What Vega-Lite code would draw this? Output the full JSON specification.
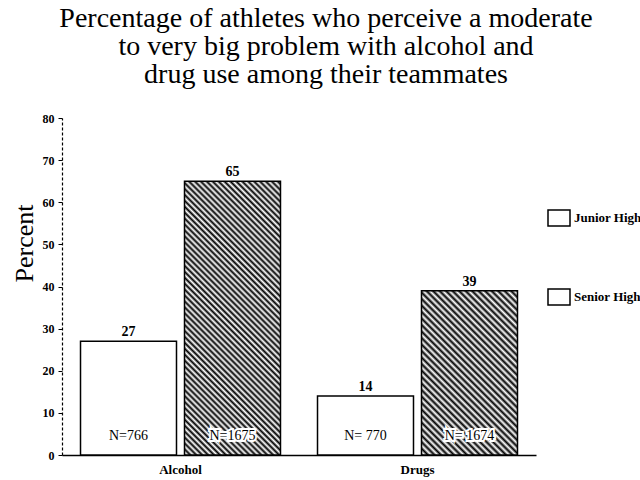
{
  "$schema": "https://vega.github.io/schema/vega-lite/v6.json",
  "autosize": "none",
  "width": 474,
  "height": 337,
  "padding": {"left": 62, "top": 118, "right": 104, "bottom": 25},
  "background": "white",
  "config": {"view": {"stroke": null}, "font": "Liberation Serif"},
  "title": {
    "text": ["Percentage of athletes who perceive a moderate", "to very big problem with alcohol and", "drug use among their teammates"],
    "font": "Liberation Serif", "fontSize": 28, "fontWeight": "normal", "color": "black",
    "anchor": "middle", "frame": "group", "dx": 27, "offset": 23, "lineHeight": 28
  },
  "data": {"values": [
    {"cat": "Alcohol", "level": "Junior High", "pct": 27, "n": "N=766"},
    {"cat": "Alcohol", "level": "Senior High", "pct": 65, "n": "N=1675"},
    {"cat": "Drugs", "level": "Junior High", "pct": 14, "n": "N= 770"},
    {"cat": "Drugs", "level": "Senior High", "pct": 39, "n": "N= 1674"}
  ]},
  "encoding": {
    "x": {"field": "cat", "type": "nominal", "scale": {"paddingInner": 0, "paddingOuter": 0},
      "axis": {"title": null, "labelAngle": 0, "ticks": false, "domainColor": "black", "domainWidth": 1.5, "labelFont": "Liberation Serif", "labelFontSize": 13, "labelFontWeight": "bold", "labelColor": "black", "labelPadding": 8}},
    "xOffset": {"field": "level", "type": "nominal", "scale": {"paddingInner": 0.077, "paddingOuter": 0.178}},
    "y": {"field": "pct", "type": "quantitative", "scale": {"domain": [0, 80], "nice": false},
      "axis": {"title": "Percent", "titleFont": "Liberation Serif", "titleFontSize": 26, "titleFontWeight": "normal", "titleColor": "black",
        "titleX": -30, "titleY": 125, "titleAngle": -90, "titleAlign": "center", "titleBaseline": "alphabetic",
        "values": [0, 10, 20, 30, 40, 50, 60, 70, 80], "grid": false, "domainColor": "black", "domainDash": [3, 2], "domainWidth": 1.2,
        "tickColor": "black", "tickSize": 4, "labelFont": "Liberation Serif", "labelFontSize": 12, "labelFontWeight": "bold", "labelColor": "black", "labelPadding": 4}}
  },
  "layer": [
    {
      "mark": {"type": "bar", "strokeWidth": 1.5},
      "encoding": {
        "fill": {
          "condition": [
            {"test": "datum.cat === 'Alcohol' && datum.level === 'Senior High'", "value": {"gradient": "linear", "x1": 0, "y1": 1, "x2": 0.4217, "y2": -0.2027, "stops": [
              {"offset": 0, "color": "#000"}, {"offset": 0.008, "color": "#fff"}, {"offset": 0.016, "color": "#000"}, {"offset": 0.024, "color": "#fff"}, {"offset": 0.032, "color": "#000"}, {"offset": 0.04, "color": "#fff"}, {"offset": 0.048, "color": "#000"}, {"offset": 0.056, "color": "#fff"}, {"offset": 0.064, "color": "#000"}, {"offset": 0.072, "color": "#fff"},
              {"offset": 0.08, "color": "#000"}, {"offset": 0.088, "color": "#fff"}, {"offset": 0.096, "color": "#000"}, {"offset": 0.104, "color": "#fff"}, {"offset": 0.112, "color": "#000"}, {"offset": 0.12, "color": "#fff"}, {"offset": 0.128, "color": "#000"}, {"offset": 0.136, "color": "#fff"}, {"offset": 0.144, "color": "#000"}, {"offset": 0.152, "color": "#fff"},
              {"offset": 0.16, "color": "#000"}, {"offset": 0.168, "color": "#fff"}, {"offset": 0.176, "color": "#000"}, {"offset": 0.184, "color": "#fff"}, {"offset": 0.192, "color": "#000"}, {"offset": 0.2, "color": "#fff"}, {"offset": 0.208, "color": "#000"}, {"offset": 0.216, "color": "#fff"}, {"offset": 0.224, "color": "#000"}, {"offset": 0.232, "color": "#fff"},
              {"offset": 0.24, "color": "#000"}, {"offset": 0.248, "color": "#fff"}, {"offset": 0.256, "color": "#000"}, {"offset": 0.264, "color": "#fff"}, {"offset": 0.272, "color": "#000"}, {"offset": 0.28, "color": "#fff"}, {"offset": 0.288, "color": "#000"}, {"offset": 0.296, "color": "#fff"}, {"offset": 0.304, "color": "#000"}, {"offset": 0.312, "color": "#fff"},
              {"offset": 0.32, "color": "#000"}, {"offset": 0.328, "color": "#fff"}, {"offset": 0.336, "color": "#000"}, {"offset": 0.344, "color": "#fff"}, {"offset": 0.352, "color": "#000"}, {"offset": 0.36, "color": "#fff"}, {"offset": 0.368, "color": "#000"}, {"offset": 0.376, "color": "#fff"}, {"offset": 0.384, "color": "#000"}, {"offset": 0.392, "color": "#fff"},
              {"offset": 0.4, "color": "#000"}, {"offset": 0.408, "color": "#fff"}, {"offset": 0.416, "color": "#000"}, {"offset": 0.424, "color": "#fff"}, {"offset": 0.432, "color": "#000"}, {"offset": 0.44, "color": "#fff"}, {"offset": 0.448, "color": "#000"}, {"offset": 0.456, "color": "#fff"}, {"offset": 0.464, "color": "#000"}, {"offset": 0.472, "color": "#fff"},
              {"offset": 0.48, "color": "#000"}, {"offset": 0.488, "color": "#fff"}, {"offset": 0.496, "color": "#000"}, {"offset": 0.504, "color": "#fff"}, {"offset": 0.512, "color": "#000"}, {"offset": 0.52, "color": "#fff"}, {"offset": 0.528, "color": "#000"}, {"offset": 0.536, "color": "#fff"}, {"offset": 0.544, "color": "#000"}, {"offset": 0.552, "color": "#fff"},
              {"offset": 0.56, "color": "#000"}, {"offset": 0.568, "color": "#fff"}, {"offset": 0.576, "color": "#000"}, {"offset": 0.584, "color": "#fff"}, {"offset": 0.592, "color": "#000"}, {"offset": 0.6, "color": "#fff"}, {"offset": 0.608, "color": "#000"}, {"offset": 0.616, "color": "#fff"}, {"offset": 0.624, "color": "#000"}, {"offset": 0.632, "color": "#fff"},
              {"offset": 0.64, "color": "#000"}, {"offset": 0.648, "color": "#fff"}, {"offset": 0.656, "color": "#000"}, {"offset": 0.664, "color": "#fff"}, {"offset": 0.672, "color": "#000"}, {"offset": 0.68, "color": "#fff"}, {"offset": 0.688, "color": "#000"}, {"offset": 0.696, "color": "#fff"}, {"offset": 0.704, "color": "#000"}, {"offset": 0.712, "color": "#fff"},
              {"offset": 0.72, "color": "#000"}, {"offset": 0.728, "color": "#fff"}, {"offset": 0.736, "color": "#000"}, {"offset": 0.744, "color": "#fff"}, {"offset": 0.752, "color": "#000"}, {"offset": 0.76, "color": "#fff"}, {"offset": 0.768, "color": "#000"}, {"offset": 0.776, "color": "#fff"}, {"offset": 0.784, "color": "#000"}, {"offset": 0.792, "color": "#fff"},
              {"offset": 0.8, "color": "#000"}, {"offset": 0.808, "color": "#fff"}, {"offset": 0.816, "color": "#000"}, {"offset": 0.824, "color": "#fff"}, {"offset": 0.832, "color": "#000"}, {"offset": 0.84, "color": "#fff"}, {"offset": 0.848, "color": "#000"}, {"offset": 0.856, "color": "#fff"}, {"offset": 0.864, "color": "#000"}, {"offset": 0.872, "color": "#fff"},
              {"offset": 0.88, "color": "#000"}, {"offset": 0.888, "color": "#fff"}, {"offset": 0.896, "color": "#000"}, {"offset": 0.904, "color": "#fff"}, {"offset": 0.912, "color": "#000"}, {"offset": 0.92, "color": "#fff"}, {"offset": 0.928, "color": "#000"}, {"offset": 0.936, "color": "#fff"}, {"offset": 0.944, "color": "#000"}, {"offset": 0.952, "color": "#fff"},
              {"offset": 0.96, "color": "#000"}, {"offset": 0.968, "color": "#fff"}, {"offset": 0.976, "color": "#000"}, {"offset": 0.984, "color": "#fff"}, {"offset": 0.992, "color": "#000"}, {"offset": 1, "color": "#fff"}
            ]}},
            {"test": "datum.cat === 'Drugs' && datum.level === 'Senior High'", "value": {"gradient": "linear", "x1": 0, "y1": 1, "x2": 0.69, "y2": -0.181, "stops": [
              {"offset": 0, "color": "#000"}, {"offset": 0.0125, "color": "#fff"}, {"offset": 0.025, "color": "#000"}, {"offset": 0.0375, "color": "#fff"}, {"offset": 0.05, "color": "#000"}, {"offset": 0.0625, "color": "#fff"}, {"offset": 0.075, "color": "#000"}, {"offset": 0.0875, "color": "#fff"},
              {"offset": 0.1, "color": "#000"}, {"offset": 0.1125, "color": "#fff"}, {"offset": 0.125, "color": "#000"}, {"offset": 0.1375, "color": "#fff"}, {"offset": 0.15, "color": "#000"}, {"offset": 0.1625, "color": "#fff"}, {"offset": 0.175, "color": "#000"}, {"offset": 0.1875, "color": "#fff"},
              {"offset": 0.2, "color": "#000"}, {"offset": 0.2125, "color": "#fff"}, {"offset": 0.225, "color": "#000"}, {"offset": 0.2375, "color": "#fff"}, {"offset": 0.25, "color": "#000"}, {"offset": 0.2625, "color": "#fff"}, {"offset": 0.275, "color": "#000"}, {"offset": 0.2875, "color": "#fff"},
              {"offset": 0.3, "color": "#000"}, {"offset": 0.3125, "color": "#fff"}, {"offset": 0.325, "color": "#000"}, {"offset": 0.3375, "color": "#fff"}, {"offset": 0.35, "color": "#000"}, {"offset": 0.3625, "color": "#fff"}, {"offset": 0.375, "color": "#000"}, {"offset": 0.3875, "color": "#fff"},
              {"offset": 0.4, "color": "#000"}, {"offset": 0.4125, "color": "#fff"}, {"offset": 0.425, "color": "#000"}, {"offset": 0.4375, "color": "#fff"}, {"offset": 0.45, "color": "#000"}, {"offset": 0.4625, "color": "#fff"}, {"offset": 0.475, "color": "#000"}, {"offset": 0.4875, "color": "#fff"},
              {"offset": 0.5, "color": "#000"}, {"offset": 0.5125, "color": "#fff"}, {"offset": 0.525, "color": "#000"}, {"offset": 0.5375, "color": "#fff"}, {"offset": 0.55, "color": "#000"}, {"offset": 0.5625, "color": "#fff"}, {"offset": 0.575, "color": "#000"}, {"offset": 0.5875, "color": "#fff"},
              {"offset": 0.6, "color": "#000"}, {"offset": 0.6125, "color": "#fff"}, {"offset": 0.625, "color": "#000"}, {"offset": 0.6375, "color": "#fff"}, {"offset": 0.65, "color": "#000"}, {"offset": 0.6625, "color": "#fff"}, {"offset": 0.675, "color": "#000"}, {"offset": 0.6875, "color": "#fff"},
              {"offset": 0.7, "color": "#000"}, {"offset": 0.7125, "color": "#fff"}, {"offset": 0.725, "color": "#000"}, {"offset": 0.7375, "color": "#fff"}, {"offset": 0.75, "color": "#000"}, {"offset": 0.7625, "color": "#fff"}, {"offset": 0.775, "color": "#000"}, {"offset": 0.7875, "color": "#fff"},
              {"offset": 0.8, "color": "#000"}, {"offset": 0.8125, "color": "#fff"}, {"offset": 0.825, "color": "#000"}, {"offset": 0.8375, "color": "#fff"}, {"offset": 0.85, "color": "#000"}, {"offset": 0.8625, "color": "#fff"}, {"offset": 0.875, "color": "#000"}, {"offset": 0.8875, "color": "#fff"},
              {"offset": 0.9, "color": "#000"}, {"offset": 0.9125, "color": "#fff"}, {"offset": 0.925, "color": "#000"}, {"offset": 0.9375, "color": "#fff"}, {"offset": 0.95, "color": "#000"}, {"offset": 0.9625, "color": "#fff"}, {"offset": 0.975, "color": "#000"}, {"offset": 0.9875, "color": "#fff"},
              {"offset": 1, "color": "#000"}
            ]}}
          ],
          "value": "white"
        },
        "stroke": {
          "field": "level", "type": "nominal",
          "scale": {"domain": ["Junior High", "Senior High"], "range": ["black", "black"]},
          "legend": {"title": null, "orient": "none", "legendX": 485, "legendY": 88, "symbolType": "M-1,-0.727H1V0.727H-1Z", "symbolSize": 484,
            "symbolStrokeWidth": 1.5, "labelFont": "Liberation Serif", "labelFontSize": 13, "labelFontWeight": "bold", "labelColor": "black",
            "rowPadding": 56, "labelOffset": 3,
            "encode": {"symbols": {"update": {
              "fill": {"value": {"expr": "datum.value === 'Senior High' ? '#6a6a6a' : 'white'"}},
              "stroke": {"value": "black"},
              "strokeWidth": {"value": 1.5},
              "opacity": {"value": 1}
            }}}}
        }
      }
    },
    {
      "mark": {"type": "text", "baseline": "bottom", "dy": -2, "font": "Liberation Serif", "fontSize": 14, "fontWeight": "bold", "color": "black"},
      "encoding": {"text": {"field": "pct", "type": "quantitative"}}
    },
    {
      "mark": {"type": "text", "baseline": "middle", "dy": -19, "font": "Liberation Serif", "fontSize": 14, "stroke": "white", "strokeWidth": 4, "color": "white"},
      "encoding": {"y": {"datum": 0, "type": "quantitative"}, "text": {"field": "n", "type": "nominal"}}
    },
    {
      "mark": {"type": "text", "baseline": "middle", "dy": -19, "font": "Liberation Serif", "fontSize": 14, "color": "black"},
      "encoding": {"y": {"datum": 0, "type": "quantitative"}, "text": {"field": "n", "type": "nominal"}}
    }
  ]
}
